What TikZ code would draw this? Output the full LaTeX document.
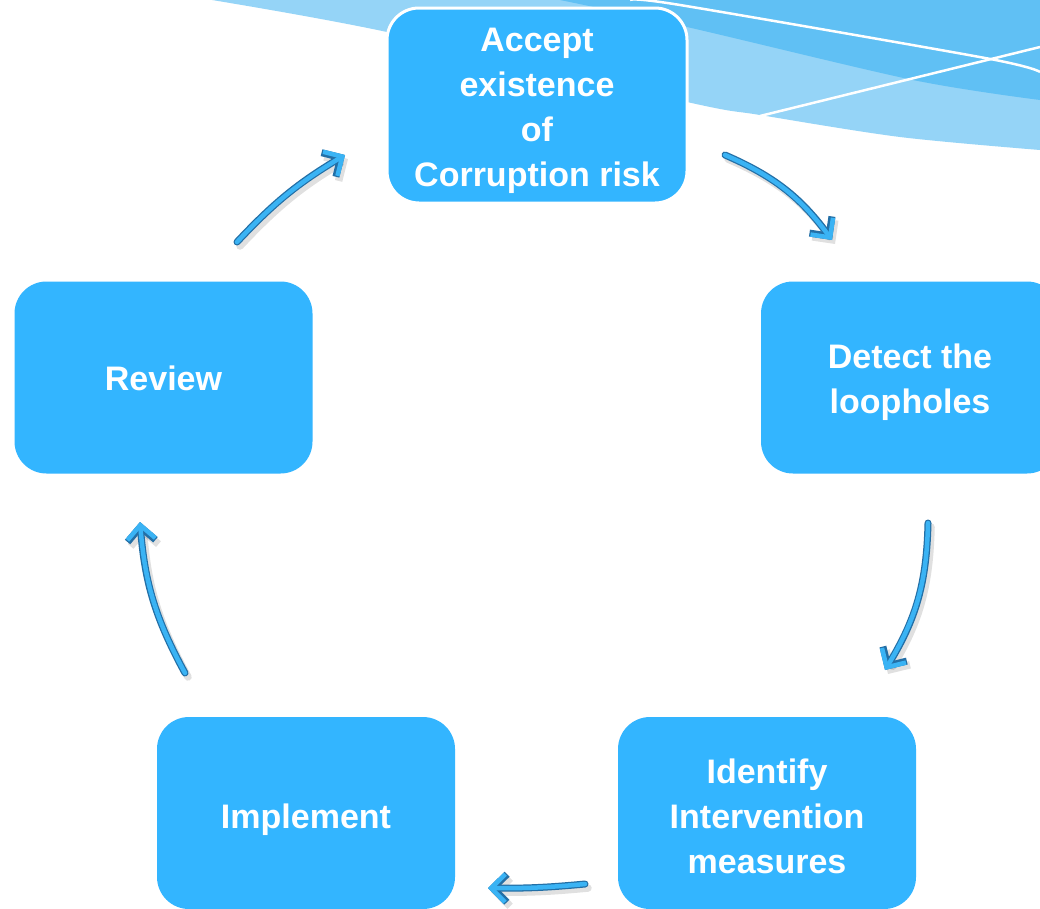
\documentclass[tikz,border=0pt]{standalone}
\usepackage{fontspec}
\setmainfont{Liberation Sans}
\usetikzlibrary{arrows.meta}
\definecolor{boxblue}{HTML}{33B5FF}
\definecolor{bandsolid}{HTML}{60C0F4}
\definecolor{bandlight}{HTML}{95D4F7}
\definecolor{arrowlight}{HTML}{3AB3F4}
\definecolor{arrowdark}{HTML}{236FA6}
\newcommand{\cyclearrow}[3]{%
  \draw[arrshadow] (#1) to[#3] (#2);
  \draw[arrdark] (#1) to[#3] (#2);
  \draw[arrlight] (#1) to[#3] (#2);}
\newcommand{\lowerby}[1]{\rule{0pt}{#1}}
\begin{document}
\begin{tikzpicture}[x=1pt,y=-1pt,
  stepbox/.style={rounded corners=32pt, fill=boxblue, text=white,
    font=\bfseries\fontsize{34}{45}\selectfont, align=center,
    minimum width=298pt, minimum height=192pt, inner sep=0pt},
  arrdark/.style={draw=arrowdark, line width=7pt, line cap=round,
    -{Straight Barb[length=14pt,width=28pt]}},
  arrlight/.style={draw=arrowlight, line width=4.5pt, line cap=round,
    -{Straight Barb[length=14pt,width=28pt]}},
  arrshadow/.style={draw=black, opacity=0.12, line width=7.5pt, line cap=round,
    transform canvas={xshift=3pt,yshift=-4pt},
    -{Straight Barb[length=14pt,width=28pt]}}]
\useasboundingbox (0,0) rectangle (1040,908);
\fill[white] (0,0) rectangle (1040,908);
% background wave
\begin{scope}
\clip (0,0) rectangle (1040,908);
\fill[bandlight] plot[smooth] coordinates {(212,0) (387,32) (687,102) (760,115) (900,137) (1040,150)} -- (1040,0) -- cycle;
\fill[bandsolid] plot[smooth] coordinates {(560,0) (687,27) (913,80) (1040,100)} -- (1040,0) -- cycle;
\draw[white, line width=2.5pt] plot[smooth] coordinates {(630,0) (680,5) (985,58) (1040,72)};
\draw[white, line width=2.5pt] (760,116) -- (1040,47);
% boxes
\node[stepbox, draw=white, line width=3pt, minimum width=300pt, minimum height=195pt] (accept) at (537,105.5) {\lowerby{35pt}Accept\\existence\\of\\Corruption risk};
\node[stepbox] (detect) at (910,377.5) {\lowerby{35pt}Detect the\\loopholes};
\node[stepbox] (identify) at (767,813) {\lowerby{31pt}Identify\\Intervention\\measures};
\node[stepbox] (implement) at (306,813) {\lowerby{39pt}Implement};
\node[stepbox] (review) at (163.5,377.5) {\lowerby{27pt}Review};
\end{scope}
% arrow end points
\coordinate (r1) at (237,242); \coordinate (a1) at (345,155);
\coordinate (a2) at (725,155); \coordinate (d2) at (832,240);
\coordinate (d3) at (928,523); \coordinate (i3) at (885,670);
\coordinate (i4) at (585,884); \coordinate (m4) at (488,888);
\coordinate (m5) at (185,673); \coordinate (r5) at (140,522);
\cyclearrow{r1}{a1}{bend left=8}
\cyclearrow{a2}{d2}{bend left=15}
\cyclearrow{d3}{i3}{bend left=15}
\cyclearrow{i4}{m4}{bend left=3}
\cyclearrow{m5}{r5}{bend left=12}
\end{tikzpicture}
\end{document}
